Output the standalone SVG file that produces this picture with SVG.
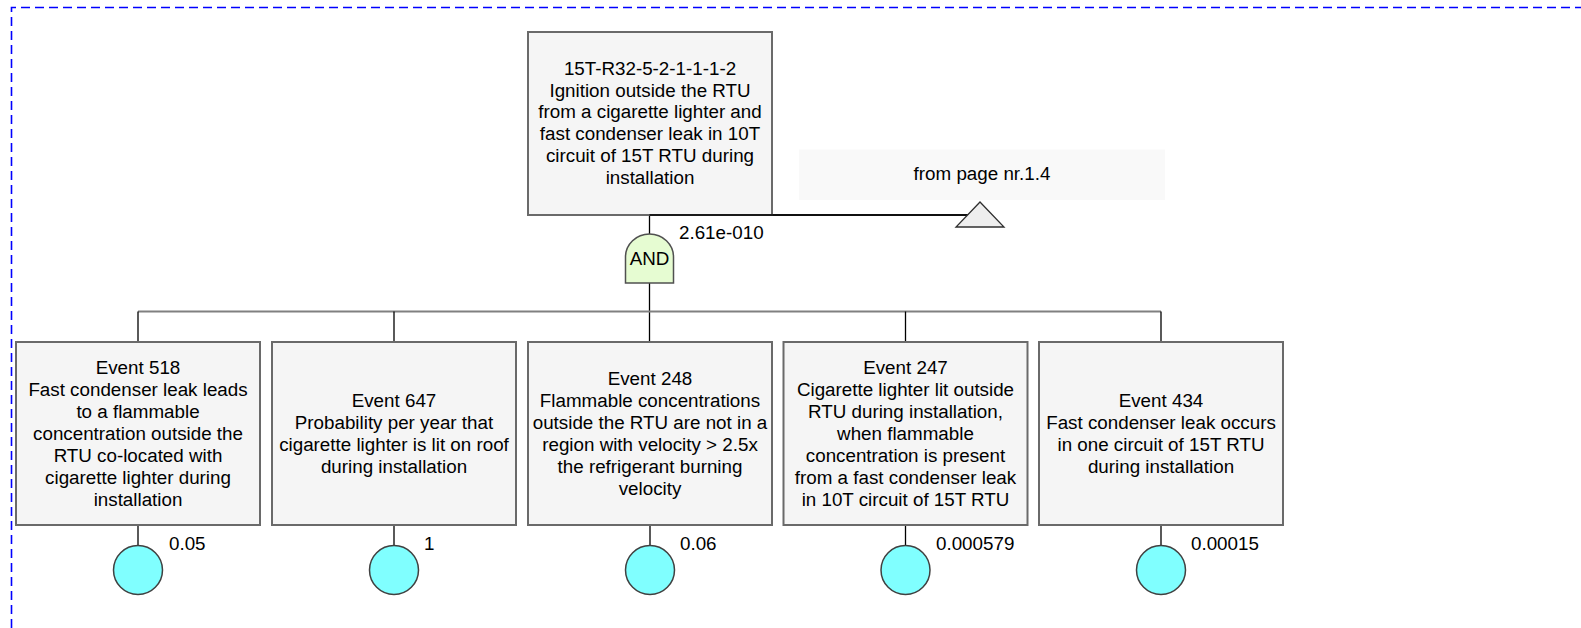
<svg xmlns="http://www.w3.org/2000/svg" width="1581" height="628" viewBox="0 0 1581 628">
<style>
text{font-family:"Liberation Sans",Arial,sans-serif;font-size:18.8px;fill:#000}
.c{text-anchor:middle}
.box{fill:#f5f5f5;stroke:#6a6a6a;stroke-width:2}
.ev{fill:#80ffff;stroke:#404040;stroke-width:1.5}
.ln{stroke:#000;stroke-width:1.3;fill:none}
.bus{stroke:#808080;stroke-width:2.2;fill:none}
</style>
<rect x="0" y="0" width="1581" height="628" fill="#fff"/>
<path d="M11.5,628 L11.5,7.5 L1581,7.5" fill="none" stroke="#0000ff" stroke-width="1.6" stroke-dasharray="9,5"/>
<g id="connectors">
<line class="ln" x1="649.5" y1="215" x2="649.5" y2="342"/>
<line class="ln" x1="649.5" y1="215" x2="980" y2="215"/>
<line class="bus" x1="138" y1="311.5" x2="1161" y2="311.5"/>
<line class="ln" x1="138" y1="311.5" x2="138" y2="342"/>
<line class="ln" x1="394" y1="311.5" x2="394" y2="342"/>
<line class="ln" x1="905.5" y1="311.5" x2="905.5" y2="342"/>
<line class="ln" x1="1161" y1="311.5" x2="1161" y2="342"/>
<line class="ln" x1="138" y1="525" x2="138" y2="545"/>
<line class="ln" x1="394" y1="525" x2="394" y2="545"/>
<line class="ln" x1="650" y1="525" x2="650" y2="545"/>
<line class="ln" x1="905.5" y1="525" x2="905.5" y2="545"/>
<line class="ln" x1="1161" y1="525" x2="1161" y2="545"/>
</g>
<g id="top">
<rect class="box" x="528" y="32" width="244" height="183"/>
<text class="c" x="650" y="75">15T-R32-5-2-1-1-1-2</text>
<text class="c" x="650" y="96.7">Ignition outside the RTU</text>
<text class="c" x="650" y="118.4">from a cigarette lighter and</text>
<text class="c" x="650" y="140.1">fast condenser leak in 10T</text>
<text class="c" x="650" y="161.8">circuit of 15T RTU during</text>
<text class="c" x="650" y="183.5">installation</text>
<line class="ln" x1="649.5" y1="215" x2="980" y2="215"/>
</g>
<g id="transfer">
<rect x="799" y="149.5" width="366" height="50.5" fill="#f9f9f9"/>
<text class="c" x="982" y="180">from page nr.1.4</text>
<path d="M980,202 L1004,227 L956,227 Z" fill="#eeeeee" stroke="#303030" stroke-width="1.3"/>
</g>
<g id="gate">
<path d="M625.5,283 L625.5,257 A24,23 0 0 1 673.5,257 L673.5,283 Z" fill="#e6fcd2" stroke="#505050" stroke-width="1.5"/>
<text class="c" x="649.5" y="265">AND</text>
<text x="679" y="238.5">2.61e-010</text>
</g>
<g id="e518">
<rect class="box" x="16" y="342" width="244" height="183"/>
<text class="c" x="138" y="374">Event 518</text>
<text class="c" x="138" y="396">Fast condenser leak leads</text>
<text class="c" x="138" y="418">to a flammable</text>
<text class="c" x="138" y="440">concentration outside the</text>
<text class="c" x="138" y="462">RTU co-located with</text>
<text class="c" x="138" y="484">cigarette lighter during</text>
<text class="c" x="138" y="506">installation</text>
<circle class="ev" cx="138" cy="570" r="24.5"/>
<text x="169" y="550">0.05</text>
</g>
<g id="e647">
<rect class="box" x="272" y="342" width="244" height="183"/>
<text class="c" x="394" y="407">Event 647</text>
<text class="c" x="394" y="429">Probability per year that</text>
<text class="c" x="394" y="451">cigarette lighter is lit on roof</text>
<text class="c" x="394" y="473">during installation</text>
<circle class="ev" cx="394" cy="570" r="24.5"/>
<text x="424" y="550">1</text>
</g>
<g id="e248">
<rect class="box" x="528" y="342" width="244" height="183"/>
<text class="c" x="650" y="385">Event 248</text>
<text class="c" x="650" y="407">Flammable concentrations</text>
<text class="c" x="650" y="429">outside the RTU are not in a</text>
<text class="c" x="650" y="451">region with velocity &gt; 2.5x</text>
<text class="c" x="650" y="473">the refrigerant burning</text>
<text class="c" x="650" y="495">velocity</text>
<circle class="ev" cx="650" cy="570" r="24.5"/>
<text x="680" y="550">0.06</text>
</g>
<g id="e247">
<rect class="box" x="783.5" y="342" width="244" height="183"/>
<text class="c" x="905.5" y="374">Event 247</text>
<text class="c" x="905.5" y="396">Cigarette lighter lit outside</text>
<text class="c" x="905.5" y="418">RTU during installation,</text>
<text class="c" x="905.5" y="440">when flammable</text>
<text class="c" x="905.5" y="462">concentration is present</text>
<text class="c" x="905.5" y="484">from a fast condenser leak</text>
<text class="c" x="905.5" y="506">in 10T circuit of 15T RTU</text>
<circle class="ev" cx="905.5" cy="570" r="24.5"/>
<text x="936" y="550">0.000579</text>
</g>
<g id="e434">
<rect class="box" x="1039" y="342" width="244" height="183"/>
<text class="c" x="1161" y="407">Event 434</text>
<text class="c" x="1161" y="429">Fast condenser leak occurs</text>
<text class="c" x="1161" y="451">in one circuit of 15T RTU</text>
<text class="c" x="1161" y="473">during installation</text>
<circle class="ev" cx="1161" cy="570" r="24.5"/>
<text x="1191" y="550">0.00015</text>
</g>
</svg>
